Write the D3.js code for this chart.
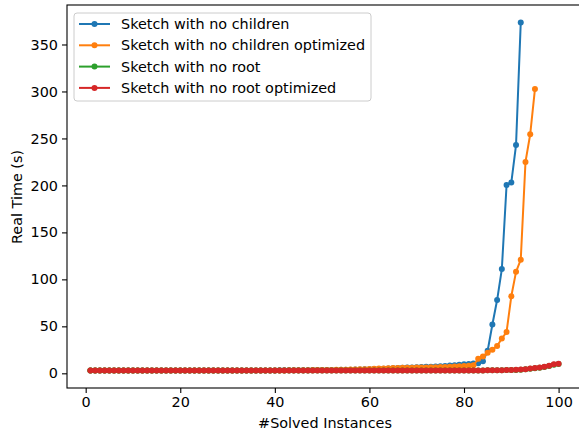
<!DOCTYPE html>
<html>
<head>
<meta charset="utf-8">
<script src="https://cdn.jsdelivr.net/npm/d3@7"></script>
<style>
  body { margin: 0; background: #fff; }
  text { font-family: "DejaVu Sans", sans-serif; }
</style>
</head>
<body>
<div id="chart"></div>
<script>

// series values, one per solved instance (x = 1, 2, 3, ...)
const noChildren = [
  3.0,3.0,3.0,3.0,3.0,3.0,3.0,3.0,3.0,3.0,
  3.0,3.0,3.0,3.0,3.0,3.0,3.0,3.0,3.0,3.0,
  3.0,3.0,3.0,3.0,3.0,3.0,3.0,3.0,3.0,3.0,
  3.0,3.0,3.0,3.0,3.1,3.1,3.1,3.1,3.1,3.1,
  3.2,3.2,3.2,3.2,3.3,3.3,3.3,3.4,3.4,3.5,
  3.5,3.6,3.6,3.7,3.8,3.9,4.0,4.1,4.2,4.3,
  4.5,4.7,4.9,5.1,5.3,5.6,5.9,6.1,6.3,6.5,
  6.7,6.9,7.1,7.3,7.6,7.9,8.2,8.6,9.0,9.6,
  10.0,10.4,10.8,12.8,24.0,52.0,78.0,111.0,200.5,203.0,
  243.0,373.5
];
const noChildrenOpt = [
  3.0,3.0,3.0,3.0,3.0,3.0,3.0,3.0,3.0,3.0,
  3.0,3.0,3.0,3.0,3.0,3.0,3.0,3.0,3.0,3.0,
  3.0,3.0,3.0,3.0,3.0,3.0,3.0,3.0,3.0,3.0,
  3.0,3.0,3.0,3.0,3.0,3.0,3.0,3.1,3.1,3.1,
  3.1,3.1,3.2,3.2,3.2,3.3,3.3,3.4,3.4,3.5,
  3.5,3.6,3.7,3.8,3.9,4.0,4.1,4.2,4.4,4.6,
  4.8,5.0,5.2,5.4,5.6,5.7,5.8,5.9,6.0,6.1,
  6.2,6.3,6.4,6.5,6.6,6.8,7.0,7.2,7.5,7.8,
  8.1,8.5,15.5,18.0,22.0,25.0,29.0,37.0,44.0,82.0,
  108.0,121.0,225.0,254.5,302.5
];
const noRoot = [
  2.9,2.9,2.9,3.0,3.0,3.0,3.0,3.0,3.0,3.0,
  3.0,3.0,3.0,3.0,3.0,3.0,3.0,3.0,3.0,3.0,
  3.0,3.0,3.0,3.0,3.0,3.0,3.0,3.0,3.0,3.0,
  3.0,3.0,3.0,3.0,3.0,3.0,3.0,3.0,3.0,3.0,
  3.0,3.0,3.0,3.0,3.0,3.0,3.0,3.0,3.0,3.0,
  3.0,3.0,3.0,3.0,3.0,3.0,3.0,3.0,3.0,3.0,
  3.0,3.0,3.0,3.0,3.0,3.0,3.0,3.0,3.0,3.0,
  3.0,3.0,3.0,3.0,3.0,3.0,3.0,3.1,3.1,3.1,
  3.1,3.1,3.1,3.1,3.2,3.2,3.2,3.3,3.4,3.5,
  3.6,3.9,4.3,4.8,5.4,6.0,6.8,7.8,9.2,10.0
];
const noRootOpt = [
  2.9,2.9,2.9,3.0,3.0,3.0,3.0,3.0,3.0,3.0,
  3.0,3.0,3.0,3.0,3.0,3.0,3.0,3.0,3.0,3.0,
  3.0,3.0,3.0,3.0,3.0,3.0,3.0,3.0,3.0,3.0,
  3.0,3.0,3.0,3.0,3.0,3.0,3.0,3.0,3.0,3.0,
  3.0,3.0,3.0,3.0,3.0,3.0,3.0,3.0,3.0,3.0,
  3.0,3.0,3.0,3.0,3.0,3.0,3.0,3.0,3.0,3.0,
  3.0,3.0,3.0,3.0,3.0,3.0,3.0,3.0,3.0,3.0,
  3.0,3.0,3.0,3.0,3.0,3.0,3.0,3.1,3.1,3.1,
  3.1,3.1,3.1,3.1,3.2,3.2,3.2,3.3,3.4,3.5,
  3.7,4.0,4.4,5.0,5.6,6.2,7.0,8.0,9.6,10.2
];

const seriesNames = ["Sketch with no children", "Sketch with no children optimized",
                     "Sketch with no root", "Sketch with no root optimized"];
const seriesColors = ["#1f77b4", "#ff7f0e", "#2ca02c", "#d62728"];
const xTicks = [0, 20, 40, 60, 80, 100];
const yTicks = [0, 50, 100, 150, 200, 250, 300, 350];

const allSeries = [noChildren, noChildrenOpt, noRoot, noRootOpt];
const fontSize = "14.4px";

// figure size and axes box (the right side of the axes runs off the figure)
const W = 579, H = 434;
const margin = {top: 5, right: -3, bottom: 46, left: 67};
const width = W - margin.left - margin.right,
      height = H - margin.top - margin.bottom;

const svg = d3.select("#chart")
  .append("svg")
    .attr("width", W)
    .attr("height", H)
    .style("display", "block");

svg.append("rect").attr("width", W).attr("height", H).attr("fill", "#fff");

const g = svg.append("g")
    .attr("transform", `translate(${margin.left},${margin.top})`);

// matplotlib-like 5% margins on both axes
const nMax = d3.max(allSeries, s => s.length);
const xPad = (nMax - 1) * 0.05;
const x = d3.scaleLinear()
    .domain([1 - xPad, nMax + xPad])
    .range([0, width]);

const yMin = d3.min(allSeries, s => d3.min(s)),
      yMax = d3.max(allSeries, s => d3.max(s));
const yPad = (yMax - yMin) * 0.05;
const y = d3.scaleLinear()
    .domain([yMin - yPad, yMax + yPad])
    .range([height, 0]);

// axes
const xAxis = g.append("g")
    .attr("transform", `translate(0,${height})`)
    .call(d3.axisBottom(x).tickValues(xTicks).tickSize(5).tickPadding(4).tickSizeOuter(0));
const yAxis = g.append("g")
    .call(d3.axisLeft(y).tickValues(yTicks).tickSize(5).tickPadding(4).tickSizeOuter(0));

[xAxis, yAxis].forEach(a => {
  a.select(".domain").remove();
  a.selectAll("line").attr("stroke", "#000").attr("stroke-width", 1.1);
  a.selectAll("text").attr("fill", "#000").style("font-size", fontSize);
});

// spines
g.append("rect")
    .attr("x", 0).attr("y", 0)
    .attr("width", width).attr("height", height)
    .attr("fill", "none")
    .attr("stroke", "#000")
    .attr("stroke-width", 1.1);

// lines + markers
g.append("clipPath").attr("id", "clip")
  .append("rect").attr("x", 0).attr("y", 0).attr("width", width).attr("height", height);

const plot = g.append("g").attr("clip-path", "url(#clip)");
const line = d3.line()
    .x((d, i) => x(i + 1))
    .y(d => y(d));

allSeries.forEach((s, k) => {
  const sg = plot.append("g");
  sg.append("path")
      .datum(s)
      .attr("fill", "none")
      .attr("stroke", seriesColors[k])
      .attr("stroke-width", 2)
      .attr("stroke-linejoin", "round")
      .attr("d", line);
  sg.selectAll("circle")
    .data(s)
    .join("circle")
      .attr("cx", (d, i) => x(i + 1))
      .attr("cy", d => y(d))
      .attr("r", 3)
      .attr("fill", seriesColors[k]);
});

// axis labels
svg.append("text")
    .attr("x", 325).attr("y", 428)
    .attr("text-anchor", "middle")
    .style("font-size", fontSize)
    .text("#Solved Instances");
svg.append("text")
    .attr("transform", "translate(22,197) rotate(-90)")
    .attr("text-anchor", "middle")
    .style("font-size", fontSize)
    .text("Real Time (s)");

// legend
const legend = svg.append("g").attr("transform", "translate(74,13)");
legend.append("rect")
    .attr("width", 297).attr("height", 88)
    .attr("rx", 3)
    .attr("fill", "#fff").attr("fill-opacity", 0.8)
    .attr("stroke", "#ccc").attr("stroke-width", 1);

seriesNames.forEach((name, k) => {
  const row = legend.append("g").attr("transform", `translate(0,${11 + k * 21.3})`);
  row.append("line")
      .attr("x1", 5).attr("x2", 36)
      .attr("stroke", seriesColors[k]).attr("stroke-width", 2);
  row.append("circle")
      .attr("cx", 20.5).attr("r", 3)
      .attr("fill", seriesColors[k]);
  row.append("text")
      .attr("x", 47).attr("y", 5)
      .style("font-size", fontSize)
      .text(name);
});
</script>
</body>
</html>
